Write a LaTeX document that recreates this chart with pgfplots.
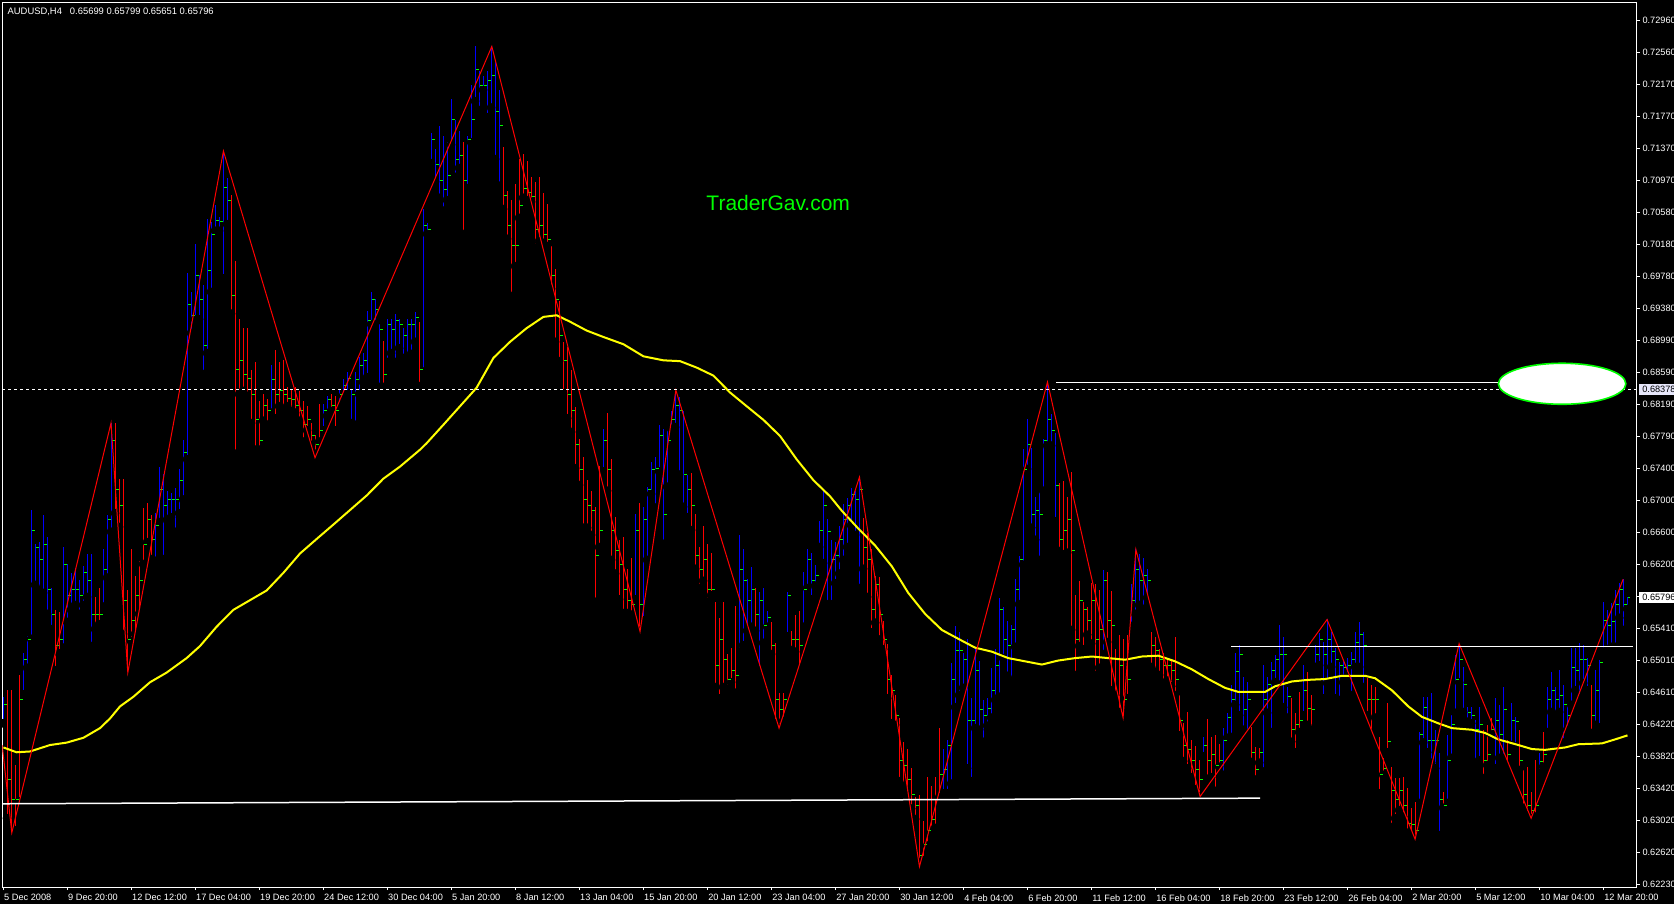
\documentclass[border=0pt]{standalone}
\usepackage{fontspec}
\setmainfont{Liberation Sans}
\usepackage{pgfplots}
\usepackage{pgfplotstable}
\pgfplotsset{compat=1.18}

\definecolor{barup}{RGB}{0,0,255}
\definecolor{bardn}{RGB}{255,0,0}
\definecolor{tickg}{RGB}{0,255,0}
\definecolor{maline}{RGB}{255,255,0}
\definecolor{zigzag}{RGB}{255,0,0}
\definecolor{lavbox}{RGB}{230,230,250}

% H4 bars: index, low, high, close, up(1)/down(0)
\pgfplotstableread{
x lo hi c d
0 0.6423 0.6456 0.6446 1
1 0.6305 0.6464 0.6353 0
2 0.6287 0.6464 0.6328 0
3 0.6290 0.6371 0.6328 0
4 0.6326 0.6483 0.6452 0
5 0.6459 0.6510 0.6502 1
6 0.6492 0.6531 0.6527 1
7 0.6528 0.6688 0.6663 1
8 0.6595 0.6646 0.6641 1
9 0.6589 0.6648 0.6626 1
10 0.6585 0.6682 0.6645 1
11 0.6559 0.6654 0.6589 1
12 0.6540 0.6591 0.6558 1
13 0.6489 0.6564 0.6520 0
14 0.6510 0.6561 0.6527 0
15 0.6517 0.6642 0.6620 1
16 0.6549 0.6621 0.6582 1
17 0.6564 0.6610 0.6589 1
18 0.6570 0.6616 0.6589 1
19 0.6559 0.6601 0.6582 1
20 0.6570 0.6618 0.6610 1
21 0.6580 0.6633 0.6601 1
22 0.6519 0.6633 0.6558 1
23 0.6540 0.6580 0.6558 0
24 0.6546 0.6591 0.6558 0
25 0.6568 0.6640 0.6614 1
26 0.6604 0.6682 0.6676 1
27 0.6661 0.6796 0.6775 1
28 0.6684 0.6796 0.6713 0
29 0.6667 0.6727 0.6694 0
30 0.6534 0.6727 0.6576 0
31 0.6486 0.6589 0.6527 0
32 0.6525 0.6640 0.6551 0
33 0.6534 0.6606 0.6582 0
34 0.6559 0.6625 0.6601 0
35 0.6621 0.6691 0.6645 0
36 0.6648 0.6697 0.6676 0
37 0.6627 0.6682 0.6651 0
38 0.6625 0.6684 0.6669 1
39 0.6673 0.6742 0.6713 1
40 0.6627 0.6733 0.6694 1
41 0.6676 0.6712 0.6701 1
42 0.6679 0.6709 0.6701 1
43 0.6661 0.6715 0.6701 1
44 0.6684 0.6739 0.6725 1
45 0.6701 0.6775 0.6760 1
46 0.6751 0.6982 0.6943 1
47 0.6908 0.6959 0.6930 1
48 0.6925 0.7019 0.6980 1
49 0.6925 0.6980 0.6949 1
50 0.6857 0.6968 0.6893 1
51 0.6883 0.7050 0.6986 1
52 0.6959 0.7046 0.7030 1
53 0.7035 0.7067 0.7048 1
54 0.7035 0.7052 0.7046 1
55 0.6976 0.7133 0.7089 1
56 0.7043 0.7101 0.7073 1
57 0.6932 0.7079 0.6955 0
58 0.6758 0.6997 0.6862 0
59 0.6832 0.6925 0.6874 0
60 0.6836 0.6914 0.6856 0
61 0.6830 0.6914 0.6852 0
62 0.6796 0.6862 0.6831 0
63 0.6763 0.6872 0.6800 0
64 0.6763 0.6823 0.6775 0
65 0.6799 0.6832 0.6818 0
66 0.6794 0.6826 0.6812 0
67 0.6809 0.6868 0.6850 1
68 0.6802 0.6887 0.6831 0
69 0.6817 0.6872 0.6837 0
70 0.6811 0.6874 0.6831 0
71 0.6817 0.6841 0.6827 0
72 0.6811 0.6838 0.6825 0
73 0.6809 0.6841 0.6818 0
74 0.6799 0.6836 0.6812 0
75 0.6773 0.6823 0.6794 0
76 0.6787 0.6817 0.6800 0
77 0.6769 0.6796 0.6781 0
78 0.6758 0.6781 0.6769 0
79 0.6773 0.6820 0.6787 0
80 0.6787 0.6820 0.6812 1
81 0.6805 0.6830 0.6825 1
82 0.6811 0.6832 0.6818 0
83 0.6787 0.6830 0.6812 0
84 0.6817 0.6838 0.6831 1
85 0.6830 0.6851 0.6843 1
86 0.6832 0.6860 0.6852 1
87 0.6796 0.6838 0.6831 1
88 0.6794 0.6860 0.6850 1
89 0.6832 0.6878 0.6868 1
90 0.6847 0.6883 0.6874 1
91 0.6853 0.6935 0.6924 1
92 0.6919 0.6959 0.6949 1
93 0.6919 0.6950 0.6937 1
94 0.6841 0.6919 0.6912 1
95 0.6841 0.6898 0.6856 0
96 0.6872 0.6925 0.6918 1
97 0.6883 0.6925 0.6912 1
98 0.6872 0.6932 0.6924 1
99 0.6889 0.6925 0.6918 1
100 0.6877 0.6914 0.6905 1
101 0.6877 0.6925 0.6918 1
102 0.6882 0.6925 0.6918 1
103 0.6897 0.6934 0.6927 1
104 0.6842 0.6922 0.6862 0
105 0.6860 0.7062 0.7042 1
106 0.7031 0.7045 0.7036 1
107 0.7119 0.7156 0.7148 1
108 0.7096 0.7137 0.7117 1
109 0.7076 0.7165 0.7098 1
110 0.7060 0.7153 0.7086 1
111 0.7073 0.7145 0.7104 1
112 0.7142 0.7199 0.7173 1
113 0.7102 0.7173 0.7123 1
114 0.7113 0.7159 0.7129 1
115 0.7031 0.7145 0.7098 0
116 0.7088 0.7153 0.7148 1
117 0.7145 0.7216 0.7173 1
118 0.7196 0.7265 0.7235 1
119 0.7185 0.7233 0.7216 1
120 0.7210 0.7227 0.7216 1
121 0.7176 0.7233 0.7222 1
122 0.7188 0.7265 0.7228 1
123 0.7124 0.7245 0.7183 1
124 0.7091 0.7210 0.7166 1
125 0.7062 0.7139 0.7079 0
126 0.7025 0.7084 0.7042 0
127 0.6954 0.7073 0.7017 0
128 0.6991 0.7093 0.7017 0
129 0.7051 0.7124 0.7067 0
130 0.7076 0.7130 0.7088 0
131 0.7073 0.7122 0.7083 0
132 0.7071 0.7102 0.7078 0
133 0.7014 0.7096 0.7036 0
134 0.7022 0.7102 0.7042 0
135 0.7020 0.7082 0.7030 0
136 0.7016 0.7068 0.7024 0
137 0.6963 0.7016 0.6980 0
138 0.6897 0.6988 0.6949 0
139 0.6873 0.6948 0.6905 0
140 0.6833 0.6897 0.6874 0
141 0.6802 0.6891 0.6831 0
142 0.6785 0.6862 0.6812 0
143 0.6740 0.6816 0.6769 0
144 0.6719 0.6776 0.6738 0
145 0.6666 0.6754 0.6701 0
146 0.6666 0.6725 0.6694 0
147 0.6657 0.6712 0.6688 0
148 0.6574 0.6692 0.6632 0
149 0.6642 0.6743 0.6663 0
150 0.6736 0.6789 0.6775 1
151 0.6712 0.6809 0.6738 0
152 0.6626 0.6751 0.6663 0
153 0.6609 0.6679 0.6638 0
154 0.6577 0.6651 0.6620 0
155 0.6560 0.6654 0.6589 0
156 0.6560 0.6615 0.6576 0
157 0.6558 0.6628 0.6570 0
158 0.6577 0.6683 0.6663 1
159 0.6538 0.6697 0.6570 0
160 0.6551 0.6692 0.6676 1
161 0.6626 0.6717 0.6713 1
162 0.6708 0.6748 0.6738 1
163 0.6691 0.6754 0.6740 1
164 0.6736 0.6794 0.6781 1
165 0.6646 0.6789 0.6682 1
166 0.6717 0.6789 0.6775 1
167 0.6789 0.6811 0.6800 1
168 0.6791 0.6833 0.6818 1
169 0.6732 0.6828 0.6812 1
170 0.6692 0.6811 0.6732 1
171 0.6679 0.6732 0.6713 1
172 0.6663 0.6734 0.6694 0
173 0.6615 0.6683 0.6632 0
174 0.6591 0.6642 0.6614 0
175 0.6600 0.6668 0.6626 0
176 0.6574 0.6646 0.6589 0
177 0.6582 0.6635 0.6589 0
178 0.6468 0.6574 0.6495 0
179 0.6454 0.6554 0.6527 0
180 0.6468 0.6574 0.6502 0
181 0.6466 0.6509 0.6477 0
182 0.6474 0.6517 0.6489 0
183 0.6461 0.6569 0.6483 0
184 0.6512 0.6657 0.6614 1
185 0.6520 0.6640 0.6601 1
186 0.6538 0.6602 0.6576 1
187 0.6543 0.6617 0.6589 1
188 0.6538 0.6591 0.6558 0
189 0.6489 0.6586 0.6576 1
190 0.6523 0.6591 0.6545 1
191 0.6543 0.6563 0.6554 1
192 0.6509 0.6549 0.6520 0
193 0.6423 0.6523 0.6452 0
194 0.6417 0.6461 0.6440 0
195 0.6426 0.6461 0.6452 0
196 0.6531 0.6586 0.6582 1
197 0.6514 0.6538 0.6527 0
198 0.6512 0.6558 0.6527 0
199 0.6492 0.6563 0.6520 0
200 0.6543 0.6611 0.6589 1
201 0.6591 0.6640 0.6626 1
202 0.6577 0.6635 0.6601 1
203 0.6594 0.6620 0.6607 1
204 0.6642 0.6674 0.6663 1
205 0.6622 0.6712 0.6694 1
206 0.6571 0.6677 0.6661 1
207 0.6571 0.6651 0.6626 1
208 0.6597 0.6648 0.6632 1
209 0.6609 0.6668 0.6651 1
210 0.6626 0.6696 0.6676 1
211 0.6642 0.6703 0.6694 1
212 0.6669 0.6715 0.6707 1
213 0.6657 0.6712 0.6701 1
214 0.6591 0.6729 0.6713 1
215 0.6615 0.6678 0.6641 0
216 0.6580 0.6660 0.6626 0
217 0.6536 0.6640 0.6564 0
218 0.6548 0.6606 0.6595 0
219 0.6527 0.6605 0.6558 0
220 0.6515 0.6550 0.6527 0
221 0.6454 0.6522 0.6477 0
222 0.6423 0.6483 0.6464 0
223 0.6421 0.6458 0.6433 0
224 0.6351 0.6430 0.6377 0
225 0.6345 0.6400 0.6371 0
226 0.6334 0.6391 0.6353 0
227 0.6317 0.6367 0.6334 0
228 0.6304 0.6331 0.6321 0
229 0.6245 0.6334 0.6259 0
230 0.6253 0.6302 0.6272 0
231 0.6271 0.6356 0.6290 0
232 0.6287 0.6345 0.6303 0
233 0.6293 0.6356 0.6328 0
234 0.6331 0.6417 0.6359 0
235 0.6336 0.6391 0.6365 1
236 0.6336 0.6402 0.6396 1
237 0.6348 0.6498 0.6477 1
238 0.6443 0.6544 0.6514 1
239 0.6458 0.6536 0.6514 1
240 0.6467 0.6510 0.6502 1
241 0.6367 0.6528 0.6427 1
242 0.6351 0.6454 0.6427 1
243 0.6417 0.6518 0.6489 1
244 0.6415 0.6500 0.6440 1
245 0.6400 0.6452 0.6433 1
246 0.6420 0.6454 0.6442 1
247 0.6430 0.6492 0.6464 1
248 0.6452 0.6515 0.6495 1
249 0.6456 0.6579 0.6564 1
250 0.6504 0.6568 0.6527 1
251 0.6482 0.6550 0.6520 1
252 0.6476 0.6545 0.6539 1
253 0.6518 0.6602 0.6589 1
254 0.6571 0.6631 0.6626 1
255 0.6620 0.6764 0.6738 1
256 0.6739 0.6801 0.6769 1
257 0.6666 0.6765 0.6682 1
258 0.6651 0.6704 0.6688 1
259 0.6626 0.6713 0.6682 1
260 0.6712 0.6776 0.6775 1
261 0.6768 0.6847 0.6800 1
262 0.6768 0.6807 0.6787 1
263 0.6674 0.6784 0.6719 1
264 0.6637 0.6722 0.6651 0
265 0.6633 0.6724 0.6663 0
266 0.6635 0.6704 0.6676 0
267 0.6539 0.6735 0.6638 0
268 0.6483 0.6582 0.6527 0
269 0.6519 0.6600 0.6576 0
270 0.6515 0.6574 0.6564 0
271 0.6533 0.6568 0.6551 0
272 0.6522 0.6597 0.6576 0
273 0.6483 0.6596 0.6527 0
274 0.6492 0.6589 0.6539 0
275 0.6509 0.6614 0.6601 1
276 0.6524 0.6611 0.6551 0
277 0.6464 0.6587 0.6545 0
278 0.6458 0.6515 0.6502 0
279 0.6437 0.6533 0.6495 0
280 0.6430 0.6528 0.6452 0
281 0.6454 0.6533 0.6477 0
282 0.6544 0.6596 0.6576 1
283 0.6559 0.6639 0.6614 1
284 0.6570 0.6633 0.6601 1
285 0.6565 0.6628 0.6607 1
286 0.6579 0.6615 0.6601 1
287 0.6493 0.6536 0.6520 0
288 0.6487 0.6530 0.6514 0
289 0.6483 0.6515 0.6502 0
290 0.6473 0.6510 0.6495 0
291 0.6476 0.6504 0.6495 0
292 0.6469 0.6502 0.6489 0
293 0.6458 0.6530 0.6477 0
294 0.6408 0.6458 0.6427 0
295 0.6376 0.6423 0.6396 0
296 0.6367 0.6437 0.6390 0
297 0.6356 0.6402 0.6377 0
298 0.6341 0.6395 0.6365 0
299 0.6332 0.6377 0.6353 0
300 0.6382 0.6406 0.6396 1
301 0.6354 0.6428 0.6377 0
302 0.6356 0.6406 0.6384 0
303 0.6339 0.6408 0.6371 0
304 0.6369 0.6397 0.6377 0
305 0.6359 0.6417 0.6402 1
306 0.6405 0.6436 0.6430 1
307 0.6406 0.6471 0.6452 1
308 0.6446 0.6510 0.6487 1
309 0.6433 0.6520 0.6508 1
310 0.6415 0.6481 0.6440 1
311 0.6411 0.6474 0.6452 1
312 0.6375 0.6418 0.6387 0
313 0.6353 0.6394 0.6365 0
314 0.6374 0.6392 0.6387 0
315 0.6363 0.6495 0.6452 1
316 0.6436 0.6481 0.6471 1
317 0.6412 0.6499 0.6489 1
318 0.6474 0.6508 0.6502 1
319 0.6471 0.6545 0.6508 1
320 0.6443 0.6530 0.6508 1
321 0.6430 0.6468 0.6456 1
322 0.6400 0.6454 0.6415 0
323 0.6387 0.6436 0.6421 0
324 0.6412 0.6462 0.6427 0
325 0.6433 0.6495 0.6464 1
326 0.6421 0.6487 0.6442 0
327 0.6415 0.6458 0.6440 0
328 0.6493 0.6520 0.6508 1
329 0.6495 0.6535 0.6527 1
330 0.6454 0.6524 0.6508 1
331 0.6473 0.6552 0.6527 1
332 0.6493 0.6536 0.6512 1
333 0.6454 0.6517 0.6502 1
334 0.6452 0.6499 0.6495 1
335 0.6474 0.6502 0.6492 1
336 0.6481 0.6504 0.6495 1
337 0.6458 0.6512 0.6502 1
338 0.6493 0.6536 0.6524 1
339 0.6493 0.6549 0.6533 1
340 0.6468 0.6536 0.6520 1
341 0.6433 0.6479 0.6452 0
342 0.6411 0.6471 0.6452 0
343 0.6430 0.6468 0.6452 0
344 0.6336 0.6406 0.6359 0
345 0.6359 0.6380 0.6367 0
346 0.6387 0.6448 0.6400 0
347 0.6294 0.6369 0.6340 0
348 0.6305 0.6355 0.6328 0
349 0.6315 0.6355 0.6340 0
350 0.6307 0.6356 0.6321 0
351 0.6287 0.6343 0.6299 0
352 0.6284 0.6318 0.6297 0
353 0.6279 0.6325 0.6290 0
354 0.6324 0.6412 0.6409 1
355 0.6399 0.6456 0.6443 1
356 0.6387 0.6456 0.6402 1
357 0.6374 0.6461 0.6402 1
358 0.6367 0.6415 0.6402 1
359 0.6284 0.6386 0.6328 1
360 0.6318 0.6338 0.6321 0
361 0.6324 0.6409 0.6377 1
362 0.6380 0.6433 0.6421 1
363 0.6436 0.6508 0.6477 1
364 0.6474 0.6522 0.6502 1
365 0.6437 0.6493 0.6471 1
366 0.6425 0.6443 0.6437 1
367 0.6423 0.6443 0.6433 1
368 0.6374 0.6427 0.6415 1
369 0.6377 0.6443 0.6421 1
370 0.6355 0.6415 0.6377 0
371 0.6371 0.6421 0.6384 0
372 0.6409 0.6430 0.6415 0
373 0.6367 0.6454 0.6427 1
374 0.6380 0.6446 0.6409 1
375 0.6380 0.6468 0.6440 1
376 0.6371 0.6402 0.6384 0
377 0.6396 0.6448 0.6427 1
378 0.6394 0.6431 0.6425 1
379 0.6365 0.6415 0.6377 0
380 0.6318 0.6365 0.6334 0
381 0.6309 0.6369 0.6321 0
382 0.6305 0.6338 0.6315 0
383 0.6307 0.6377 0.6321 0
384 0.6361 0.6386 0.6375 1
385 0.6369 0.6412 0.6384 0
386 0.6412 0.6468 0.6452 1
387 0.6437 0.6487 0.6464 1
388 0.6433 0.6468 0.6452 1
389 0.6437 0.6489 0.6458 1
390 0.6399 0.6471 0.6446 1
391 0.6415 0.6448 0.6433 1
392 0.6446 0.6517 0.6492 1
393 0.6464 0.6517 0.6489 1
394 0.6454 0.6523 0.6502 1
395 0.6473 0.6520 0.6502 1
396 0.6464 0.6504 0.6495 1
397 0.6411 0.6471 0.6433 0
398 0.6421 0.6489 0.6464 1
399 0.6418 0.6502 0.6499 1
400 0.6512 0.6574 0.6551 1
401 0.6512 0.6564 0.6545 1
402 0.6518 0.6572 0.6549 1
403 0.6518 0.6589 0.6570 1
404 0.6554 0.6597 0.6589 1
405 0.6539 0.6602 0.6570 1
406 0.65651 0.65799 0.65796 1
}\bars

% moving average (yellow)
\pgfplotstableread{
x y
0.1 0.6393
3.4 0.6387
6.75 0.6388
11.75 0.6396
15.9 0.6399
20.1 0.6405
24.25 0.6417
26.75 0.6429
29.25 0.6444
32.6 0.6456
36.75 0.6474
40.9 0.6486
45.9 0.6504
49.25 0.6519
53.4 0.6543
57.6 0.6564
61.75 0.6576
65.9 0.6588
70.1 0.6610
74.25 0.6634
78.4 0.6652
82.6 0.6670
86.75 0.6688
90.9 0.6706
95.1 0.6727
99.25 0.6742
104.25 0.6763
105.9 0.6771
110.1 0.6794
114.25 0.6817
118.4 0.6840
122.6 0.6877
126.75 0.6897
130.9 0.6914
135.1 0.6928
138.4 0.6930
141.75 0.6922
145.9 0.6911
150.1 0.6903
155.1 0.6894
160.1 0.6879
165.1 0.6874
169.25 0.6873
173.4 0.6865
177.6 0.6855
181.75 0.6834
185.9 0.6817
190.1 0.6800
194.25 0.6780
198.4 0.6751
202.6 0.6725
206.75 0.6705
209.7 0.6687
213.8 0.6665
218 0.6644
222.2 0.6618
226.3 0.6585
230.5 0.6559
234.7 0.6539
238.8 0.6528
243 0.6517
247.2 0.6512
251.3 0.6504
255.5 0.6500
259.7 0.6496
263.8 0.6501
268 0.6504
272.2 0.6506
276.3 0.6504
280.5 0.6502
284.7 0.6506
288.8 0.6507
293 0.6500
297.2 0.6490
301.3 0.6478
305.5 0.6467
308.8 0.6462
315.5 0.6462
318 0.6469
322.2 0.6475
326.3 0.6477
330.5 0.6478
334.7 0.6482
340.5 0.6482
343 0.6479
347.2 0.6464
351.3 0.6444
354.7 0.6431
358.8 0.6423
362.2 0.6417
367.2 0.6415
370.5 0.6411
373.8 0.6403
378.8 0.6396
382.2 0.6391
385.5 0.6390
390.5 0.6393
393.8 0.6397
399.7 0.6398
403 0.6403
406.1 0.6408
}\ma

% zigzag swing points
\pgfplotstableread{
x y
-0.2 0.6396
2.2 0.6287
27 0.6796
31.2 0.6486
55.1 0.7134
78 0.6753
122.2 0.7264
159.25 0.6537
168.2 0.6837
194 0.6417
214.1 0.6729
229.1 0.6245
261.1 0.6847
280 0.6430
283.2 0.6639
299.25 0.6332
331 0.6552
353 0.6279
364 0.6522
382 0.6305
405 0.6602
}\zz

\begin{document}
\begin{tikzpicture}
\fill[black] (0,0) rectangle (837pt,452pt);
\begin{axis}[
  at={(1.15pt,8.5pt)}, anchor=south west,
  scale only axis, width=817.2pt, height=442.35pt,
  xmin=-0.175, xmax=408.4, ymin=0.62196, ymax=0.73189,
  axis line style={white, line width=0.5pt},
  clip mode=individual,
  tick align=outside, major tick length=1.5pt,
  tick style={white, line width=0.5pt},
  xtick pos=left, ytick pos=right, yticklabel pos=right,
  xtick={0,16,...,400},
  xticklabels={5 Dec 2008,9 Dec 20:00,12 Dec 12:00,17 Dec 04:00,19 Dec 20:00,24 Dec 12:00,30 Dec 04:00,5 Jan 20:00,8 Jan 12:00,13 Jan 04:00,15 Jan 20:00,20 Jan 12:00,23 Jan 04:00,27 Jan 20:00,30 Jan 12:00,4 Feb 04:00,6 Feb 20:00,11 Feb 12:00,16 Feb 04:00,18 Feb 20:00,23 Feb 12:00,26 Feb 04:00,2 Mar 20:00,5 Mar 12:00,10 Mar 04:00,12 Mar 20:00},
  ytick={0.72960,0.725626,0.721652,0.717678,0.713704,0.709730,0.705756,0.701781,0.697807,0.693833,0.689859,0.685885,0.681911,0.677937,0.673963,0.669989,0.666015,0.662041,0.658067,0.654093,0.650119,0.646144,0.642170,0.638196,0.634222,0.630248,0.626274,0.62230},
  yticklabels={0.72960,0.72560,0.72170,0.71770,0.71370,0.70970,0.70580,0.70180,0.69780,0.69380,0.68990,0.68590,0.68190,0.67790,0.67400,0.67000,0.66600,0.66200,{},0.65410,0.65010,0.64610,0.64220,0.63820,0.63420,0.63020,0.62620,0.62230},
  ticklabel style={font=\fontsize{4.6}{5}\selectfont, text=white, inner sep=0pt},
  xticklabel style={anchor=north west, xshift=0.4pt, yshift=-2pt},
  yticklabel style={anchor=west, xshift=1.2pt},
  scaled y ticks=false,
]
% bars
\addplot[only marks, mark=none, forget plot,
  restrict expr to domain={\thisrow{d}}{0.5:1.5},
  error bars/.cd, y dir=plus, y explicit, error mark=none,
  error bar style={color=barup, line width=0.5pt}]
  table[x=x, y=lo, y error plus expr=\thisrow{hi}-\thisrow{lo}] {\bars};
\addplot[only marks, mark=none, forget plot,
  restrict expr to domain={\thisrow{d}}{-0.5:0.5},
  error bars/.cd, y dir=plus, y explicit, error mark=none,
  error bar style={color=bardn, line width=0.5pt}]
  table[x=x, y=lo, y error plus expr=\thisrow{hi}-\thisrow{lo}] {\bars};
% close ticks (right) and open ticks (left, previous close)
\addplot[only marks, mark=-, mark size=0.5pt,
  mark options={xshift=0.75pt, draw=tickg, line width=0.5pt}]
  table[x=x, y=c] {\bars};
\addplot[only marks, mark=-, mark size=0.5pt, restrict x to domain=0:406.5,
  mark options={xshift=-0.75pt, draw=tickg, line width=0.5pt}]
  table[x expr=\thisrow{x}+1, y=c] {\bars};
% moving average
\addplot[maline, line width=1pt, mark=none] table[x=x, y=y] {\ma};
% zigzag
\addplot[zigzag, line width=0.5pt, mark=none] table[x=x, y=y] {\zz};
% horizontal lines
\addplot[white, line width=0.5pt, dash pattern=on 1.5pt off 1.5pt, mark=none]
  coordinates {(-0.2,0.68378) (408.4,0.68378)};
\addplot[white, line width=0.75pt, mark=none]
  coordinates {(-0.2,0.6323) (314.25,0.6330)};
\addplot[white, line width=0.5pt, mark=none]
  coordinates {(263.25,0.6847) (390,0.6847)};
\addplot[white, line width=0.5pt, mark=none]
  coordinates {(307,0.6518) (407.5,0.6518)};
% ellipse marker
\draw[tickg, line width=0.8pt, fill=white] (axis cs:389.75,0.68449) ellipse [x radius=31.85pt, y radius=10.25pt];
% texts
\node[anchor=base west, inner sep=0pt, text=white, font=\fontsize{4.7}{5}\selectfont]
  at (axis cs:1.07,0.73037) {AUDUSD,H4\hspace{4pt}0.65699 0.65799 0.65651 0.65796};
\node[anchor=base west, inner sep=0pt, text=tickg, font=\fontsize{10.5}{12}\selectfont]
  at (axis cs:175.75,0.70608) {TraderGav.com};
\node[anchor=west, fill=lavbox, text=black, inner xsep=1.5pt, inner ysep=1pt, font=\fontsize{4.6}{5}\selectfont]
  at (axis cs:408.4,0.68378) [xshift=1.1pt] {0.68378};
\node[anchor=west, fill=white, text=black, inner xsep=1.5pt, inner ysep=1pt, font=\fontsize{4.6}{5}\selectfont]
  at (axis cs:408.4,0.65796) [xshift=1.1pt] {0.65796};
\end{axis}
\pgfresetboundingbox
\path[use as bounding box] (0,0) rectangle (837pt,452pt);
\end{tikzpicture}
\end{document}
